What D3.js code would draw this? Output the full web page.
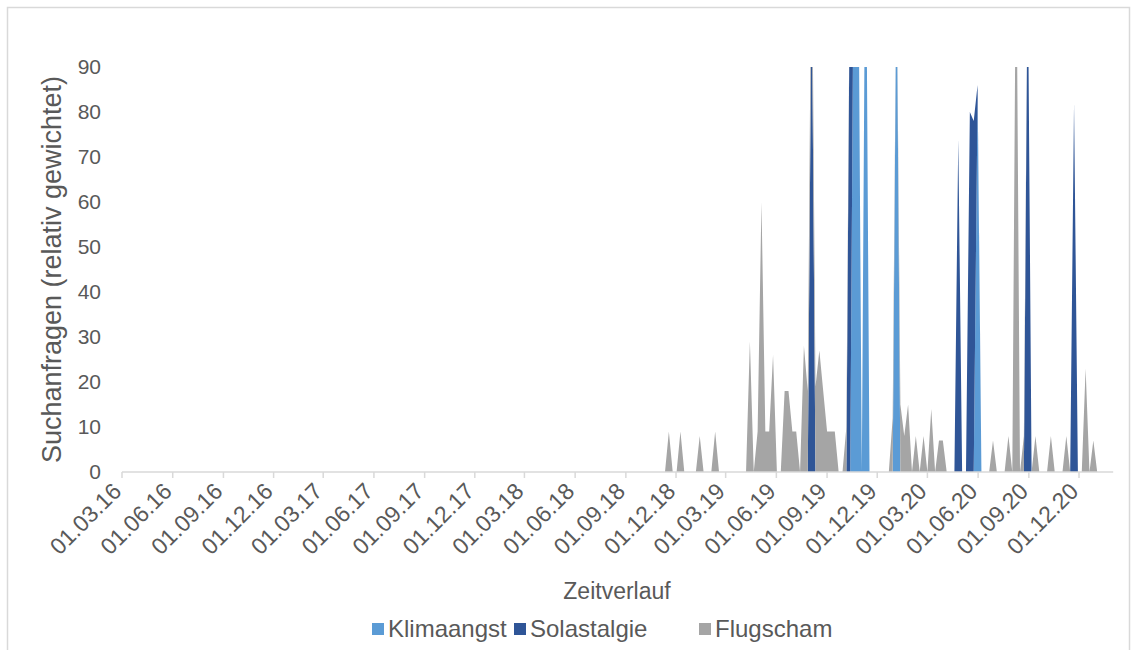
<!DOCTYPE html>
<html><head><meta charset="utf-8">
<script src="https://cdn.jsdelivr.net/npm/d3@7"></script>
<style>
body{margin:0;background:#fff;}
text{font-family:"Liberation Sans",Arial,sans-serif;fill:#595959;}
</style></head>
<body><svg id="c" width="1137" height="650"></svg>
<script>
// Weekly Google-Trends style data, first week shown = Sunday 2018-11-11 (earlier weeks are 0)
const firstWeek = "2018-11-11";
const seriesNames = ["Klimaangst", "Solastalgie", "Flugscham"];
const seriesColors = ["#5B9BD5", "#2F5597", "#A5A5A5"];
// 117 weekly values each (2018-11-11 ... 2021-01-31)
const klimaangst = [
 0,0,0,0,0,0,0,0,0,0,   0,0,0,0,0,0,0,0,0,0,
 0,0,0,0,0,0,0,0,0,0,   0,0,0,0,0,0,0,0,0,0,
 0,0,0,0,0,0,0,0,0,130, 130,0,135,0,0,0,0,0,0,0,
 115,0,0,0,0,0,0,0,0,0, 0,0,0,0,0,0,0,0,0,0,
 0,83,0,0,0,0,0,0,0,0,  0,0,0,0,0,0,0,0,0,0,
 0,0,0,0,0,0,0,0,0,0,   0,0,0,0,0,0,0
];
const solastalgie = [
 0,0,0,0,0,0,0,0,0,0,   0,0,0,0,0,0,0,0,0,0,
 0,0,0,0,0,0,0,0,0,0,   0,0,0,0,0,0,0,0,110,0,
 0,0,0,0,0,0,0,0,124,0, 0,0,0,0,0,0,0,0,0,0,
 0,0,0,0,0,0,0,0,0,0,   0,0,0,0,0,0,74,0,0,80,
 78,3,0,0,0,0,0,0,0,0,  0,0,0,0,115,0,0,0,0,0,
 0,0,0,0,0,0,82,0,0,0,  0,0,0,0,0,0,0
];
const flugscham = [
 0,9,0,0,9,0,0,0,0,8,   0,0,0,9,0,0,0,0,0,0,
 0,0,29,0,9,60,9,9,26,0, 0,18,18,9,9,0,28,18,18,19,
 27,18,9,9,9,0,0,10,0,0, 0,0,0,0,0,0,0,0,0,12,
 0,15,8,15,0,8,0,8,0,14, 0,7,7,0,0,0,0,0,0,0,
 0,0,0,0,0,7,0,0,0,8,   0,125,0,8,0,0,8,0,0,0,
 8,0,0,0,8,0,0,0,0,23,  0,7,0,0,0,0,0
];
const yTicks = [0,10,20,30,40,50,60,70,80,90];
const xTickLabels = ["01.03.16","01.06.16","01.09.16","01.12.16","01.03.17","01.06.17","01.09.17","01.12.17",
 "01.03.18","01.06.18","01.09.18","01.12.18","01.03.19","01.06.19","01.09.19","01.12.19","01.03.20","01.06.20","01.09.20","01.12.20"];
const yTitle = "Suchanfragen (relativ gewichtet)";
const xTitle = "Zeitverlauf";

const parse = d3.utcParse("%d.%m.%y");
const start = d3.utcParse("%Y-%m-%d")(firstWeek);
const rows = klimaangst.map((v,i)=>({
  date: d3.utcDay.offset(start, 7*i),
  Klimaangst: v, Solastalgie: solastalgie[i], Flugscham: flugscham[i]
}));

const svg = d3.select("#c");
const L=122, B=472, T=67;
const axisStart = parse("01.03.16"), axisEnd = d3.utcParse("%Y-%m-%d")("2021-02-01");
const pxPerDay = 957/1736;
const x = d3.scaleUtc().domain([axisStart, axisEnd]).range([L, L + (axisEnd-axisStart)/864e5*pxPerDay]);
const R = x.range()[1];
const y = d3.scaleLinear().domain([0,90]).range([B, T]);

// border
svg.append("rect").attr("x",7.5).attr("y",7.5).attr("width",1122).attr("height",680)
  .attr("fill","none").attr("stroke","#d9d9d9").attr("stroke-width",1.5);

svg.append("clipPath").attr("id","clip").append("rect")
  .attr("x",L).attr("y",T).attr("width",R-L).attr("height",B-T);

const stack = d3.stack().keys(seriesNames)(rows);
const area = d3.area().x(d=>x(d.data.date)).y0(d=>y(d[0])).y1(d=>y(d[1]));
svg.append("g").attr("clip-path","url(#clip)").selectAll("path").data(stack).join("path")
  .attr("d",area).attr("fill",(d,i)=>seriesColors[i]);

// x axis
const tickDates = xTickLabels.map(parse);
const xa = svg.append("g");
xa.append("line").attr("x1",L).attr("x2",R).attr("y1",B).attr("y2",B).attr("stroke","#d9d9d9").attr("stroke-width",1.5);
xa.selectAll("line.t").data(tickDates).join("line").attr("class","t")
  .attr("x1",d=>x(d)).attr("x2",d=>x(d)).attr("y1",B).attr("y2",B+6).attr("stroke","#d9d9d9").attr("stroke-width",1.5);
xa.selectAll("text").data(xTickLabels).join("text")
  .attr("transform",(d,i)=>`translate(${x(tickDates[i])-5},${B+15}) rotate(-45)`)
  .attr("text-anchor","end").attr("dy","0.35em").style("font-size","23px").text(d=>d);

// y axis labels
svg.append("g").selectAll("text").data(yTicks).join("text")
  .attr("x",101).attr("y",d=>y(d)).attr("dy","0.35em").attr("text-anchor","end")
  .style("font-size","21px").text(d=>d);

svg.append("text").attr("transform",`translate(61,${(T+B)/2}) rotate(-90)`)
  .attr("text-anchor","middle").style("font-size","27px").text(yTitle);
svg.append("text").attr("x",617).attr("y",599).attr("text-anchor","middle")
  .style("font-size","23px").text(xTitle);

// legend
const legX = [372, 514, 699];
const lg = svg.append("g").selectAll("g").data(seriesNames).join("g")
  .attr("transform",(d,i)=>`translate(${legX[i]},623)`);
lg.append("rect").attr("width",12).attr("height",12).attr("fill",(d,i)=>seriesColors[i]);
lg.append("text").attr("x",16).attr("y",6).attr("dy","0.35em").style("font-size","24px").text(d=>d);
</script></body></html>
